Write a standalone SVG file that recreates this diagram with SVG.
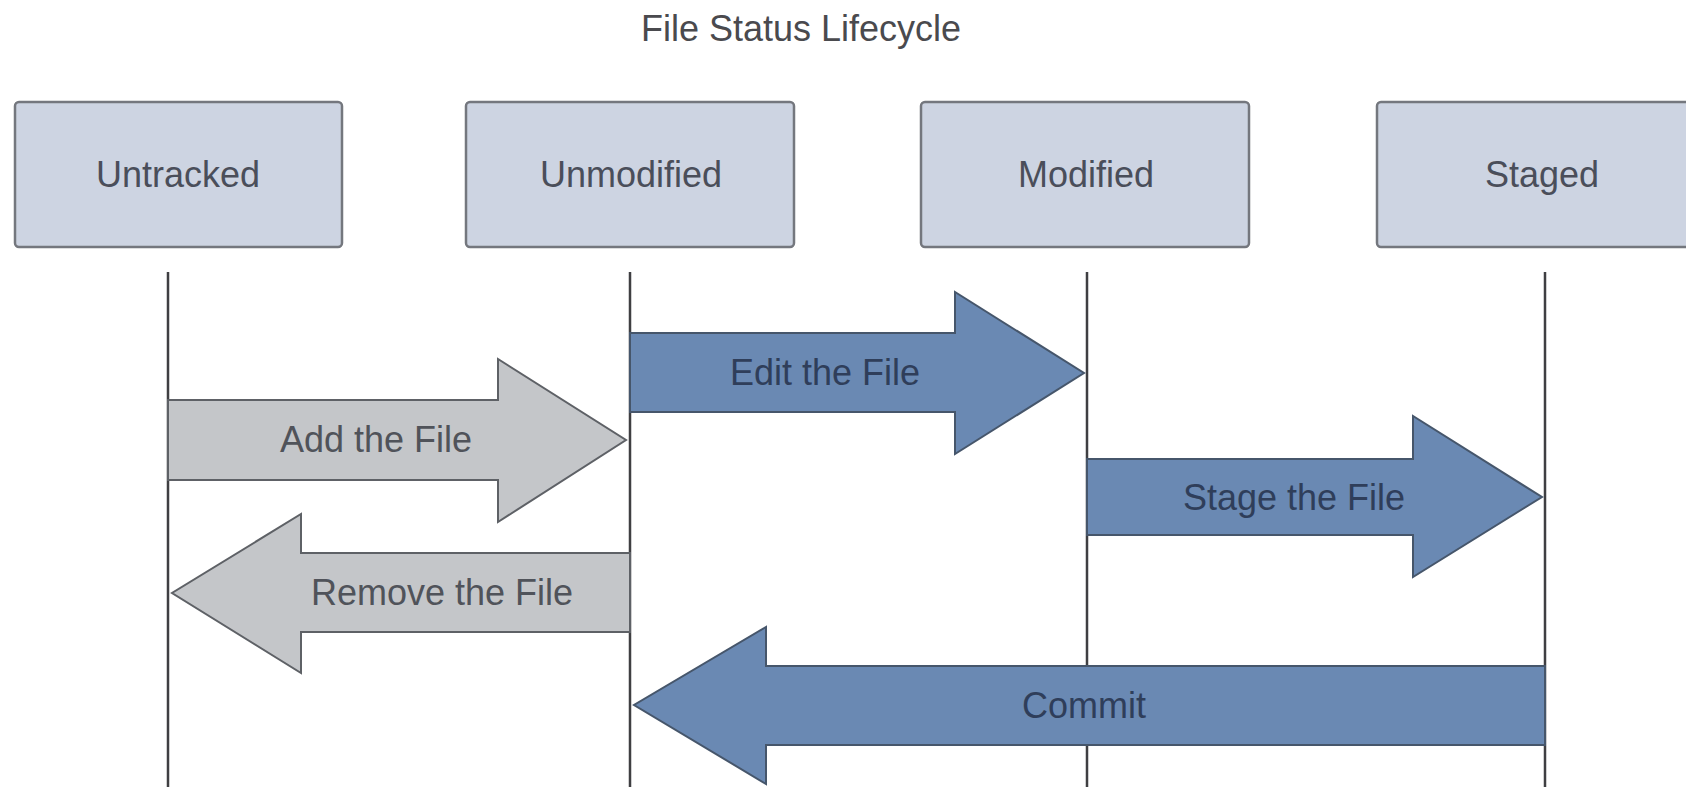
<svg xmlns="http://www.w3.org/2000/svg" width="1686" height="787" viewBox="0 0 1686 787">
<style>
text{font-family:"Liberation Sans",Arial,sans-serif;font-size:36px;text-anchor:middle}
.box{fill:#cdd4e2;stroke:#74777e;stroke-width:2.5}
.lbl{fill:#4a4e5a}
.life{stroke:#3f3f42;stroke-width:2.5}
.gray{fill:#c4c6c9;stroke:#5e6166;stroke-width:2}
.blue{fill:#6a89b3;stroke:#46566b;stroke-width:2}
.gt{fill:#50535a}
.bt{fill:#2f3e5a}
</style>
<rect width="1686" height="787" fill="#ffffff"/>
<text x="801" y="41" fill="#4a4a4e">File Status Lifecycle</text>
<g id="untracked"><rect class="box" x="15" y="102" width="327" height="145" rx="4"/><text class="lbl" x="178" y="187">Untracked</text></g>
<g id="unmodified"><rect class="box" x="466" y="102" width="328" height="145" rx="4"/><text class="lbl" x="631" y="187">Unmodified</text></g>
<g id="modified"><rect class="box" x="921" y="102" width="328" height="145" rx="4"/><text class="lbl" x="1086" y="187">Modified</text></g>
<g id="staged"><rect class="box" x="1377" y="102" width="330" height="145" rx="4"/><text class="lbl" x="1542" y="187">Staged</text></g>
<g id="connectors">
<line class="life" x1="168" y1="272" x2="168" y2="787"/>
<line class="life" x1="630" y1="272" x2="630" y2="787"/>
<line class="life" x1="1087" y1="272" x2="1087" y2="787"/>
<line class="life" x1="1545" y1="272" x2="1545" y2="787"/>
<g id="add"><polygon class="gray" points="168,400 498,400 498,359 626,440 498,522 498,480 168,480"/><text class="gt" x="376" y="452">Add the File</text></g>
<g id="remove"><polygon class="gray" points="630,553 301,553 301,514 172,593 301,673 301,632 630,632"/><text class="gt" x="442" y="605">Remove the File</text></g>
<g id="edit"><polygon class="blue" points="630,333 955,333 955,292 1084,373 955,454 955,412 630,412"/><text class="bt" x="825" y="385">Edit the File</text></g>
<g id="stage"><polygon class="blue" points="1087,459 1413,459 1413,416 1542,497 1413,577 1413,535 1087,535"/><text class="bt" x="1294" y="510">Stage the File</text></g>
<g id="commit"><polygon class="blue" points="1545,666 766,666 766,627 634,705 766,784 766,745 1545,745"/><text class="bt" x="1084" y="718">Commit</text></g>
</g>
</svg>
